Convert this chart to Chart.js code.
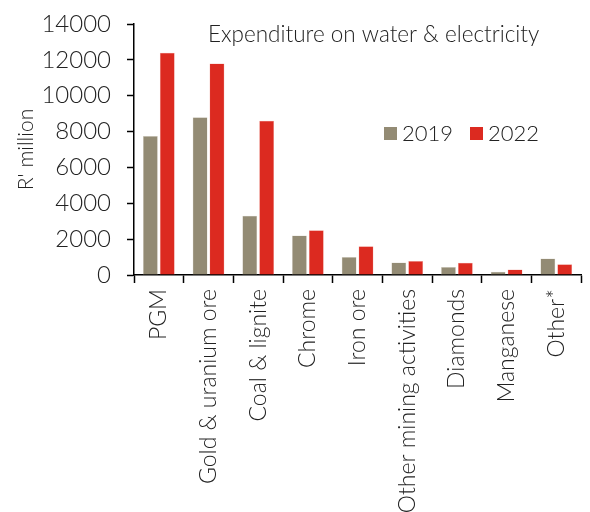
<!DOCTYPE html>
<html>
<head>
<meta charset="utf-8">
<script src="https://cdn.jsdelivr.net/npm/chart.js@4"></script>
<style>
  html, body { margin: 0; padding: 0; background: #fff; }
  #wrap { width: 590px; height: 512px; }
</style>
</head>
<body>
<div id="wrap"><canvas id="grafico" width="590" height="512"></canvas></div>
<script>
const categories = ["PGM", "Gold & uranium ore", "Coal & lignite", "Chrome", "Iron ore",
  "Other mining activities", "Diamonds", "Manganese", "Other*"];
const values2019 = [7750, 8800, 3300, 2200, 1000, 700, 450, 180, 920];
const values2022 = [12400, 11800, 8600, 2500, 1600, 780, 680, 300, 600];
const yTicks = [0, 2000, 4000, 6000, 8000, 10000, 12000, 14000];

const FONT = "Lato, 'Open Sans', sans-serif";
const GREY = "#938b74";
const RED = "#dc2a20";

// title and legend sit inside the plot area
const overlay = {
  id: "overlay",
  afterDraw(chart) {
    const ctx = chart.ctx;
    ctx.save();
    ctx.fillStyle = "#222";
    ctx.font = "300 22.5px " + FONT;
    ctx.textBaseline = "middle";
    ctx.textAlign = "left";
    ctx.fillText("Expenditure on water & electricity", 208, 35);

    let x = 384;
    chart.data.datasets.forEach((ds) => {
      ctx.fillStyle = ds.backgroundColor;
      ctx.fillRect(x, 127, 13, 13);
      ctx.fillStyle = "#222";
      ctx.font = "300 22px " + FONT;
      ctx.fillText(ds.label, x + 18, 134);
      x += 86;
    });
    ctx.restore();
  },
};

new Chart(document.getElementById("grafico"), {
  type: "bar",
  data: {
    labels: categories,
    datasets: [
      { label: "2019", data: values2019, backgroundColor: GREY, borderColor: "#d8d3c8", borderWidth: 0.5 },
      { label: "2022", data: values2022, backgroundColor: RED, borderColor: "#f2a8a0", borderWidth: 0.5 },
    ],
  },
  options: {
    responsive: false,
    animation: false,
    categoryPercentage: 0.68,
    barPercentage: 0.88,
    layout: { padding: { top: 24, right: 2, left: 14, bottom: 0 } },
    plugins: { legend: { display: false }, tooltip: { enabled: false } },
    scales: {
      x: {
        afterFit: (s) => { s.height = 237; },
        grid: { offset: true, drawOnChartArea: false, color: "#000", tickLength: 8, tickWidth: 1.5 },
        border: { color: "#000", width: 1.5 },
        ticks: {
          color: "#222",
          font: { family: FONT, size: 23, weight: "300" },
          minRotation: 90,
          maxRotation: 90,
          autoSkip: false,
          padding: 6,
        },
      },
      y: {
        min: 0,
        max: 14000,
        afterBuildTicks: (s) => { s.ticks = yTicks.map((v) => ({ value: v })); },
        afterFit: (s) => {
          s.width = 134 - 14;
          s.paddingTop = 0;
          s.paddingBottom = 0;
        },
        grid: { drawOnChartArea: false, color: "#000", tickLength: 7, tickWidth: 1.5 },
        border: { color: "#000", width: 1.5 },
        title: {
          display: true,
          text: "R' million",
          color: "#222",
          font: { family: FONT, size: 21, weight: "300" },
          padding: { top: 0, bottom: 4 },
        },
        ticks: {
          color: "#222",
          font: { family: FONT, size: 24, weight: "300" },
          padding: 16,
          callback: (v) => String(v),
        },
      },
    },
  },
  plugins: [overlay],
});
</script>
</body>
</html>
